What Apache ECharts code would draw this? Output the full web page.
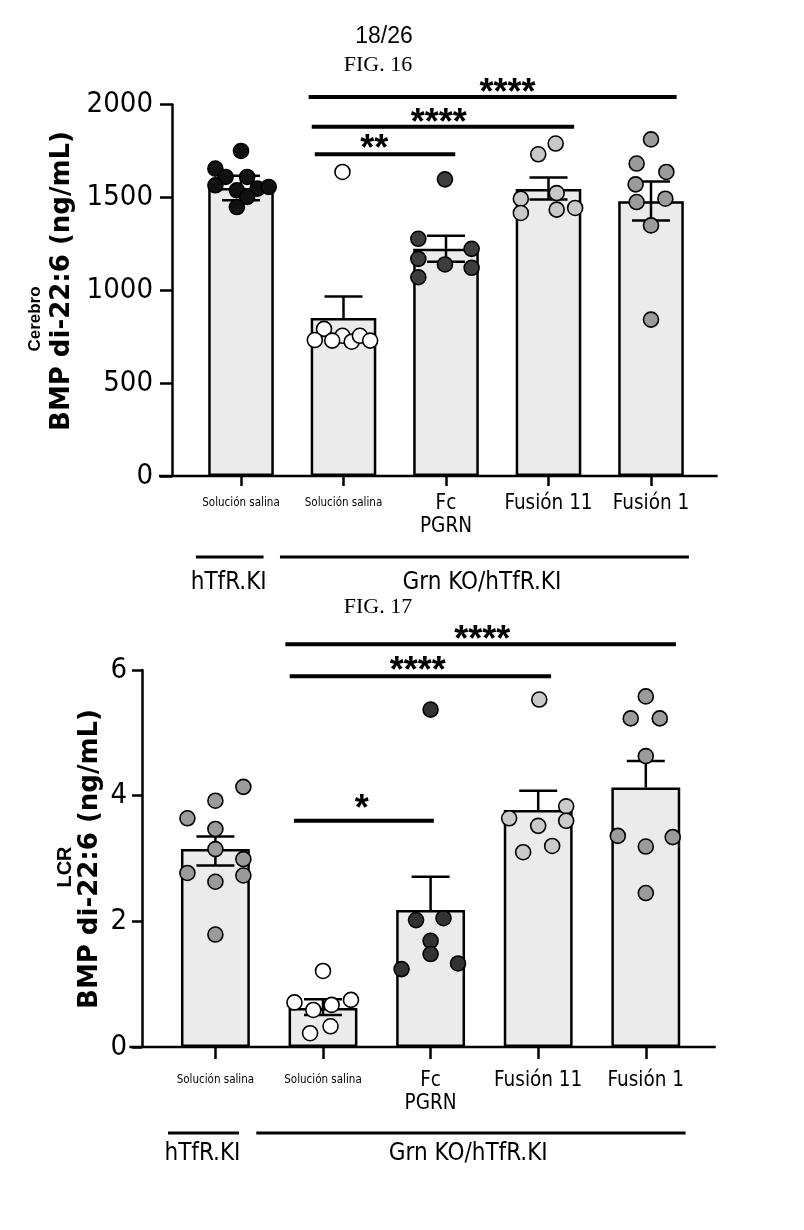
<!DOCTYPE html>
<html>
<head>
<meta charset="utf-8">
<script src="https://cdn.jsdelivr.net/npm/echarts@6/dist/echarts.min.js"></script>
<style>
  html, body { margin: 0; padding: 0; background: #fff; }
  #chart { width: 804px; height: 1230px; }
</style>
</head>
<body>
<div id="chart"></div>
<script>
// shared x categories and the two group brackets under the axis
const categories = ['Solución salina', 'Solución salina', 'Fc\nPGRN', 'Fusión 11', 'Fusión 1'];
const groupNames = ['hTfR.KI', 'Grn KO/hTfR.KI'];
const groupFrom = [-0.44, 0.38];
const groupTo = [0.22, 4.37];
const groupLabelAt = [-0.12, 2.35];
const axisSpan = [-0.8, 4.65];

// FIG. 16 - Cerebro
const brainTicks = [0, 500, 1000, 1500, 2000];
const brainMean = [1550, 851, 1223, 1545, 1479];
const brainSemUp = [66, 115, 70, 62, 106];
const brainSemDown = [66, 0, 70, 56, 103];
const brainPoints = [
  [1750, 1655, 1610, 1610, 1565, 1538, 1547, 1556, 1502, 1448],
  [1637, 792, 732, 755, 729, 723, 755, 729],
  [1597, 1277, 1223, 1169, 1139, 1121, 1070],
  [1790, 1732, 1493, 1523, 1416, 1434, 1443],
  [1812, 1682, 1637, 1570, 1475, 1493, 1349, 842]
];
const brainJitter = [
  [0, -0.25, -0.15, 0.06, -0.25, -0.04, 0.16, 0.27, 0.06, -0.04],
  [-0.01, -0.19, -0.28, -0.01, -0.11, 0.08, 0.16, 0.26],
  [-0.01, -0.27, 0.25, -0.27, -0.01, 0.25, -0.27],
  [0.07, -0.1, -0.27, 0.08, -0.27, 0.08, 0.26],
  [0, -0.14, 0.15, -0.15, -0.14, 0.14, 0, 0]
];
const brainSigText = ['**', '****', '****'];
const brainSigFrom = [0.72, 0.69, 0.66];
const brainSigTo = [2.09, 3.25, 4.25];
const brainSigY = [1732, 1880, 2040];
const brainSigTextX = [1.30, 1.93, 2.6];
const brainSigTextY = [1802, 1943, 2105];

// FIG. 17 - LCR
const csfTicks = [0, 2, 4, 6];
const csfMean = [3.15, 0.62, 2.18, 3.77, 4.13];
const csfSemUp = [0.2, 0.14, 0.53, 0.31, 0.42];
const csfSemDown = [0.26, 0.11, 0, 0, 0];
const csfPoints = [
  [4.14, 3.92, 3.64, 3.47, 3.15, 2.99, 2.77, 2.73, 2.63, 1.79],
  [1.21, 0.71, 0.75, 0.67, 0.59, 0.33, 0.22],
  [5.37, 2.02, 2.05, 1.69, 1.48, 1.24, 1.33],
  [5.53, 3.83, 3.64, 3.60, 3.52, 3.20, 3.10],
  [5.58, 5.23, 5.23, 4.63, 3.36, 3.34, 3.19, 2.45]
];
const csfJitter = [
  [0.26, 0, -0.26, 0, 0, 0.26, -0.26, 0.26, 0, 0],
  [0, -0.265, 0.26, 0.08, -0.09, 0.07, -0.12],
  [0, -0.135, 0.12, 0, 0, -0.27, 0.255],
  [0.01, 0.26, -0.27, 0.26, 0, 0.13, -0.14],
  [0, -0.14, 0.13, 0, -0.26, 0.25, 0, 0]
];
const csfSigText = ['*', '****', '****'];
const csfSigFrom = [0.73, 0.69, 0.65];
const csfSigTo = [2.03, 3.12, 4.28];
const csfSigY = [3.6, 5.9, 6.41];
const csfSigTextX = [1.36, 1.88, 2.48];
const csfSigTextY = [3.91, 6.11, 6.61];

// styles
const NARROW = '"Liberation Sans Narrow", "DejaVu Sans Condensed", sans-serif';
const brainDotColors = ['#111111', '#ffffff', '#3d3d3d', '#c9c9c9', '#9b9b9b'];
const csfDotColors = ['#9b9b9b', '#ffffff', '#333333', '#cacaca', '#9b9b9b'];

const catAxis = (grid, margin, tickLen) => ({
  type: 'category', gridIndex: grid, data: categories,
  axisLine: { show: false, onZero: false },
  axisTick: { show: true, alignWithLabel: true, interval: 0, length: tickLen, lineStyle: { color: '#000', width: 2.5 } },
  axisLabel: {
    interval: 0, margin: margin, color: '#000',
    formatter: (v, i) => v.split('\n').map(s => (i < 2 ? '{s|' : '{b|') + s + '}').join('\n'),
    rich: {
      s: { fontFamily: NARROW, fontSize: 11.5, lineHeight: 23, color: '#000' },
      b: { fontFamily: NARROW, fontSize: 20.5, lineHeight: 23, color: '#000' }
    }
  },
  splitLine: { show: false }
});
const posAxis = grid => ({ type: 'value', gridIndex: grid, min: -0.5, max: 4.5, show: false });
const valAxis = (grid, ticks, offset, fontSize, margin, tickLen) => ({
  type: 'value', gridIndex: grid, offset: offset,
  min: ticks[0], max: ticks[ticks.length - 1], interval: ticks[1] - ticks[0],
  axisLine: { show: true, onZero: false, lineStyle: { color: '#000', width: 2.5 } },
  axisTick: { show: true, length: tickLen, lineStyle: { color: '#000', width: 2.5 } },
  axisLabel: { fontFamily: NARROW, fontSize: fontSize, color: '#000', margin: margin, formatter: v => String(v) },
  splitLine: { show: false }
});

function figureSeries(k, d) {
  const xc = 2 * k, xv = 2 * k + 1, yi = k;
  const list = [];
  list.push({
    type: 'bar', xAxisIndex: xc, yAxisIndex: yi, data: d.mean, barWidth: '64%', z: 2,
    itemStyle: { color: '#ebebeb', borderColor: '#000', borderWidth: 2.5 }
  });
  list.push({
    type: 'custom', xAxisIndex: xv, yAxisIndex: yi, z: 3,
    data: d.mean.map((m, i) => [i, m, d.up[i], d.down[i]]),
    renderItem: (params, api) => {
      const x = api.value(0), m = api.value(1);
      const c = api.coord([x, m]);
      const st = { stroke: '#000', lineWidth: 2.5 };
      const kids = [];
      [api.value(2), -api.value(3)].forEach(e => {
        if (!e) return;
        const p = api.coord([x, m + e]);
        kids.push({ type: 'line', shape: { x1: c[0], y1: c[1], x2: p[0], y2: p[1] }, style: st });
        kids.push({ type: 'line', shape: { x1: p[0] - 19, y1: p[1], x2: p[0] + 19, y2: p[1] }, style: st });
      });
      return { type: 'group', children: kids };
    }
  });
  d.points.forEach((vals, g) => {
    list.push({
      type: 'scatter', xAxisIndex: xv, yAxisIndex: yi, z: 4, symbolSize: 15,
      itemStyle: { color: d.colors[g], borderColor: '#000', borderWidth: 1.6, opacity: 1 },
      data: vals.map((v, j) => [g + d.jitter[g][j], v])
    });
  });
  list.push({
    type: 'custom', xAxisIndex: xv, yAxisIndex: yi, z: 5,
    data: d.sigFrom.map((f, i) => [f, d.sigTo[i], d.sigY[i], d.sigTextX[i], d.sigTextY[i]]),
    renderItem: (params, api) => {
      const a = api.coord([api.value(0), api.value(2)]);
      const b = api.coord([api.value(1), api.value(2)]);
      const t = api.coord([api.value(3), api.value(4)]);
      return { type: 'group', children: [
        { type: 'line', shape: { x1: a[0], y1: a[1], x2: b[0], y2: b[1] }, style: { stroke: '#000', lineWidth: 4 } },
        { type: 'text', x: t[0], y: t[1] + 9, style: { text: d.sigText[params.dataIndex], font: 'bold 36px "Liberation Sans", Arial, sans-serif', fill: '#000', align: 'center', verticalAlign: 'middle' } }
      ] };
    }
  });
  list.push({
    type: 'custom', xAxisIndex: xv, yAxisIndex: yi, z: 5,
    data: [axisSpan],
    renderItem: (params, api) => {
      const a = api.coord([api.value(0), 0]);
      const b = api.coord([api.value(1), 0]);
      return { type: 'line', shape: { x1: a[0], y1: a[1], x2: b[0], y2: b[1] }, style: { stroke: '#000', lineWidth: 2.5 } };
    }
  });
  list.push({
    type: 'custom', xAxisIndex: xv, yAxisIndex: yi, z: 5,
    data: groupFrom.map((f, i) => [f, groupTo[i], groupLabelAt[i]]),
    renderItem: (params, api) => {
      const a = api.coord([api.value(0), 0]);
      const b = api.coord([api.value(1), 0]);
      const t = api.coord([api.value(2), 0]);
      return { type: 'group', children: [
        { type: 'line', shape: { x1: a[0], y1: a[1] + d.lineOff, x2: b[0], y2: b[1] + d.lineOff }, style: { stroke: '#000', lineWidth: 3 } },
        { type: 'text', x: t[0], y: t[1] + d.textOff, style: { text: groupNames[params.dataIndex], font: '24px ' + NARROW, fill: '#000', align: 'center', verticalAlign: 'middle' } }
      ] };
    }
  });
  return list;
}

const chart = echarts.init(document.getElementById('chart'));
chart.setOption({
  animation: false,
  backgroundColor: '#fff',
  grid: [
    { left: 189.75, width: 512.5, top: 104.5, height: 371.5 },
    { left: 161.6, width: 538, top: 670, height: 377 }
  ],
  xAxis: [catAxis(0, 16, 10), posAxis(0), catAxis(1, 22, 12), posAxis(1)],
  yAxis: [valAxis(0, brainTicks, 17.75, 29, 19, 12), valAxis(1, csfTicks, 19.6, 29, 15, 10)],
  series: [].concat(
    figureSeries(0, {
      mean: brainMean, up: brainSemUp, down: brainSemDown, points: brainPoints, jitter: brainJitter,
      colors: brainDotColors, sigText: brainSigText, sigFrom: brainSigFrom, sigTo: brainSigTo,
      sigY: brainSigY, sigTextX: brainSigTextX, sigTextY: brainSigTextY, lineOff: 81, textOff: 107
    }),
    figureSeries(1, {
      mean: csfMean, up: csfSemUp, down: csfSemDown, points: csfPoints, jitter: csfJitter,
      colors: csfDotColors, sigText: csfSigText, sigFrom: csfSigFrom, sigTo: csfSigTo,
      sigY: csfSigY, sigTextX: csfSigTextX, sigTextY: csfSigTextY, lineOff: 86, textOff: 107
    })
  ),
  graphic: [
    { type: 'text', x: 384, y: 37, style: { text: '18/26', font: '23px "Liberation Sans", Arial, sans-serif', fill: '#000', align: 'center', verticalAlign: 'middle' } },
    { type: 'text', x: 378, y: 65, style: { text: 'FIG. 16', font: '22px "Liberation Serif", "Times New Roman", serif', fill: '#000', align: 'center', verticalAlign: 'middle' } },
    { type: 'text', x: 378, y: 607, style: { text: 'FIG. 17', font: '22px "Liberation Serif", "Times New Roman", serif', fill: '#000', align: 'center', verticalAlign: 'middle' } },
    { type: 'text', x: 62, y: 281, rotation: Math.PI / 2, style: { text: 'BMP di-22:6 (ng/mL)', font: 'bold 26px "DejaVu Sans", sans-serif', fill: '#000', align: 'center', verticalAlign: 'middle' } },
    { type: 'text', x: 35, y: 319, rotation: Math.PI / 2, style: { text: 'Cerebro', font: 'bold 17px "Liberation Sans", Arial, sans-serif', fill: '#000', align: 'center', verticalAlign: 'middle' } },
    { type: 'text', x: 90, y: 859, rotation: Math.PI / 2, style: { text: 'BMP di-22:6 (ng/mL)', font: 'bold 26px "DejaVu Sans", sans-serif', fill: '#000', align: 'center', verticalAlign: 'middle' } },
    { type: 'text', x: 65, y: 867, rotation: Math.PI / 2, style: { text: 'LCR', font: 'bold 20px "Liberation Sans", Arial, sans-serif', fill: '#000', align: 'center', verticalAlign: 'middle' } }
  ]
});
</script>
</body>
</html>
